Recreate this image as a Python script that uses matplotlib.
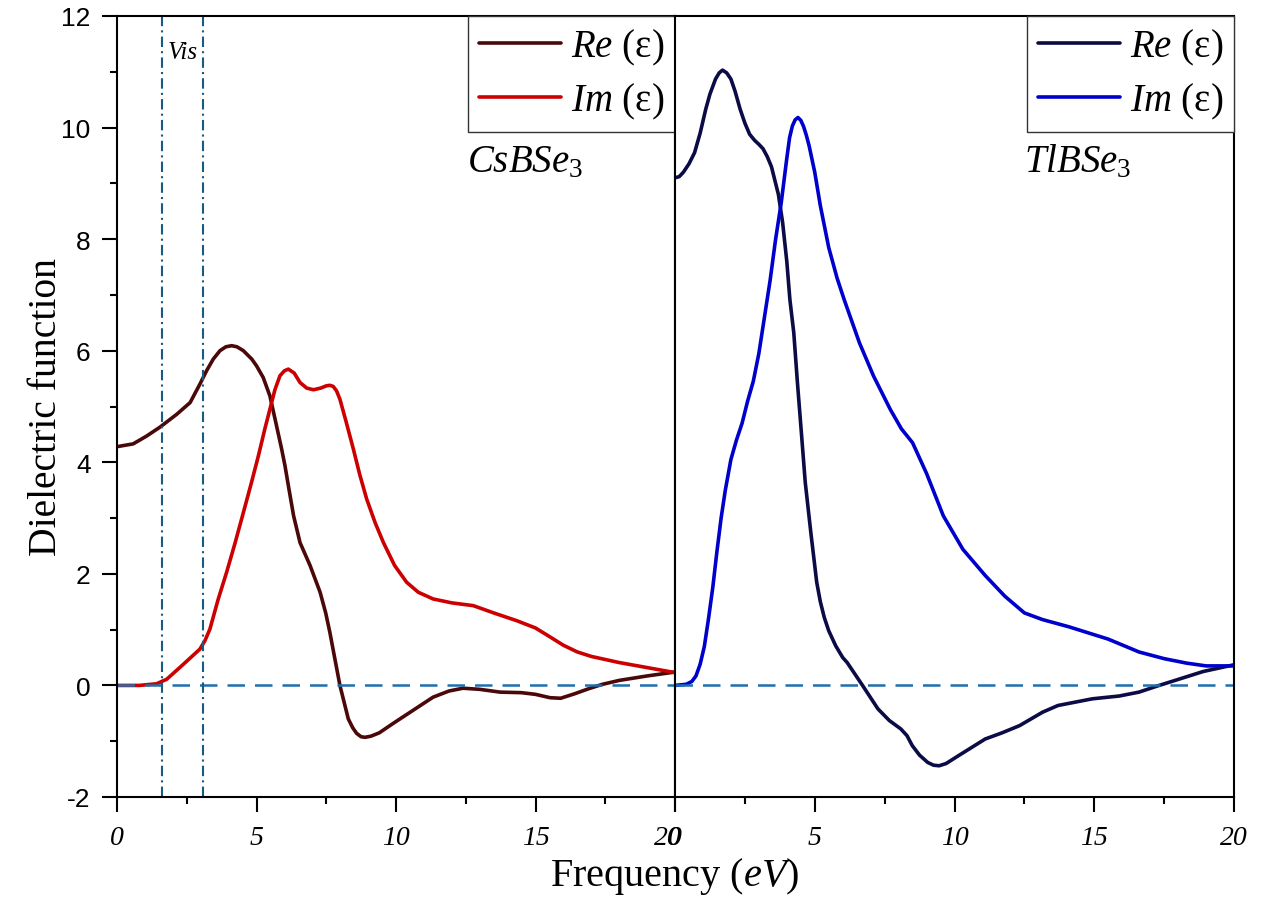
import matplotlib
matplotlib.use('Agg')
import matplotlib.pyplot as plt
import matplotlib.transforms as mtransforms
from matplotlib.ticker import MultipleLocator

plt.rcParams['font.family'] = ['Liberation Serif', 'DejaVu Serif']
plt.rcParams['mathtext.fontset'] = 'custom'
plt.rcParams['mathtext.rm'] = 'Liberation Serif'
plt.rcParams['mathtext.it'] = 'Liberation Serif:italic'
plt.rcParams['axes.unicode_minus'] = False

# CsBSe3 - real part
cs_re_x = [0, 0.58, 1.06, 1.54, 2.14, 2.62, 2.97, 3.21, 3.45, 3.69, 3.9, 4.11, 4.3, 4.53, 4.83,
           5.0, 5.24, 5.48, 5.72, 5.9, 6.02, 6.17, 6.33, 6.56, 6.92, 7.28, 7.48, 7.63, 7.8, 7.99,
           8.15, 8.29, 8.45, 8.59, 8.75, 8.89, 9.1, 9.4, 9.9, 10.6, 11.33, 11.9, 12.4, 13.0,
           13.73, 14.5, 15.0, 15.52, 15.9, 16.4, 16.9, 17.4, 18.0, 19.0, 20.0]
cs_re_y = [4.28, 4.33, 4.47, 4.63, 4.86, 5.07, 5.40, 5.64, 5.85, 6.0, 6.07, 6.09, 6.07, 6.0, 5.85,
           5.73, 5.52, 5.19, 4.65, 4.24, 3.94, 3.5, 3.04, 2.56, 2.15, 1.67, 1.3, 0.95, 0.5, 0.0,
           -0.32, -0.6, -0.76, -0.86, -0.92, -0.93, -0.91, -0.85, -0.68, -0.45, -0.21, -0.1, -0.05,
           -0.07, -0.12, -0.13, -0.16, -0.22, -0.23, -0.15, -0.06, 0.02, 0.09, 0.17, 0.24]

# CsBSe3 - imaginary part
cs_im_x = [0, 0.8, 1.42, 1.78, 2.38, 2.97, 3.15, 3.33, 3.63, 3.93, 4.23, 4.53, 4.8, 5.07, 5.3,
           5.48, 5.66, 5.84, 6.0, 6.14, 6.35, 6.56, 6.8, 7.04, 7.3, 7.5, 7.63, 7.75, 7.87, 7.99,
           8.2, 8.47, 8.7, 8.95, 9.25, 9.55, 9.95, 10.38, 10.8, 11.33, 12.0, 12.77, 13.5, 14.33,
           15.0, 15.52, 16.0, 16.5, 17.0, 18.0, 19.0, 20.0]
cs_im_y = [0.0, 0.0, 0.03, 0.11, 0.38, 0.65, 0.8, 1.01, 1.55, 2.03, 2.55, 3.1, 3.6, 4.12, 4.6,
           4.95, 5.3, 5.55, 5.64, 5.67, 5.6, 5.43, 5.33, 5.30, 5.33, 5.37, 5.38, 5.36, 5.28, 5.13,
           4.75, 4.24, 3.78, 3.34, 2.92, 2.56, 2.15, 1.85, 1.67, 1.55, 1.48, 1.43, 1.3, 1.16,
           1.03, 0.87, 0.72, 0.6, 0.52, 0.41, 0.32, 0.23]

# TlBSe3 - real part
tl_re_x = [0, 0.15, 0.3, 0.5, 0.7, 0.9, 1.1, 1.25, 1.45, 1.58, 1.7, 1.85, 2.0, 2.15, 2.33,
           2.5, 2.67, 2.85, 3.0, 3.15, 3.3, 3.45, 3.55, 3.7, 3.85, 4.0, 4.11, 4.25, 4.38, 4.52,
           4.66, 4.86, 5.07, 5.2, 5.34, 5.5, 5.75, 6.0, 6.16, 6.71, 7.26, 7.67, 8.08, 8.3, 8.49,
           8.75, 9.04, 9.25, 9.45, 9.7, 10.14, 11.1, 11.7, 12.33, 13.15, 13.7, 14.93, 15.89, 16.6,
           17.26, 18.08, 18.9, 20.0]
tl_re_y = [9.1, 9.12, 9.2, 9.35, 9.55, 9.9, 10.33, 10.6, 10.87, 10.98, 11.03, 10.98, 10.87, 10.65, 10.33,
           10.08, 9.88, 9.77, 9.7, 9.62, 9.48, 9.3, 9.1, 8.8, 8.3, 7.6, 6.92, 6.32, 5.43, 4.54,
           3.64, 2.74, 1.85, 1.5, 1.22, 0.98, 0.71, 0.5, 0.41, 0.0, -0.42, -0.63, -0.78, -0.9, -1.08,
           -1.25, -1.38, -1.43, -1.44, -1.4, -1.26, -0.96, -0.85, -0.72, -0.48, -0.36, -0.24, -0.19, -0.12,
           -0.01, 0.12, 0.25, 0.37]

# TlBSe3 - imaginary part
tl_im_x = [0, 0.4, 0.6, 0.75, 0.9, 1.05, 1.2, 1.35, 1.5, 1.65, 1.8, 2.0, 2.2, 2.4, 2.6,
           2.8, 3.0, 3.2, 3.4, 3.6, 3.8, 4.0, 4.1, 4.2, 4.3, 4.4, 4.5, 4.6, 4.7, 4.8,
           5.0, 5.2, 5.5, 5.8, 6.05, 6.6, 7.1, 7.7, 8.1, 8.5, 9.0, 9.6, 10.3, 11.1, 11.8,
           12.5, 13.15, 14.1, 15.5, 16.6, 17.5, 18.3, 19.0, 20.0]
tl_im_y = [0.0, 0.02, 0.07, 0.17, 0.38, 0.7, 1.2, 1.75, 2.4, 3.0, 3.5, 4.05, 4.4, 4.7, 5.1,
           5.45, 5.95, 6.6, 7.25, 8.0, 8.65, 9.45, 9.82, 10.03, 10.14, 10.18, 10.13, 10.02, 9.86, 9.67,
           9.2, 8.6, 7.85, 7.3, 6.92, 6.14, 5.55, 4.95, 4.6, 4.35, 3.8, 3.04, 2.44, 1.97, 1.6,
           1.3, 1.18, 1.05, 0.83, 0.6, 0.48, 0.4, 0.35, 0.35]

vis_lines = [1.6, 3.1]
re_label = r'$\mathit{Re}$ (ε)'
im_label = r'$\mathit{Im}$ (ε)'

fig = plt.figure(figsize=(12.84, 9.03), dpi=100)
axL = fig.add_axes([117 / 1284, 105 / 903, 558 / 1284, 781 / 903])
axR = fig.add_axes([675 / 1284, 105 / 903, 559 / 1284, 781 / 903], sharey=axL)

kw = dict(lw=2.6, solid_joinstyle='round', solid_capstyle='round')
axL.plot(cs_re_x, cs_re_y, color='#4a0808', label=re_label, **kw)
axL.plot(cs_im_x, cs_im_y, color='#cc0000', label=im_label, **kw)
axR.plot(tl_re_x, tl_re_y, color='#0b0b45', label=re_label, **kw)
axR.plot(tl_im_x, tl_im_y, color='#0000cc', label=im_label, **kw)

for ax in (axL, axR):
    ax.axhline(0, color='#1f6fae', lw=1.8, ls=(0, (7, 4)))
    ax.set_xlim(0, 20)
    ax.set_xticks([0, 5, 10, 15, 20])
    ax.xaxis.set_minor_locator(MultipleLocator(2.5))
    for sp in ax.spines.values():
        sp.set_linewidth(1.5)
    ax.tick_params(axis='x', which='major', direction='out', length=11, width=1.5, pad=9,
                   labelsize=20)
    ax.tick_params(axis='x', which='minor', direction='out', length=5, width=1.5)
    for t in ax.get_xticklabels():
        t.set_fontstyle('italic')
    leg = ax.legend(loc='upper right', borderaxespad=0, fancybox=False, framealpha=1,
                    edgecolor='#333333', fontsize=28, handlelength=2.1, handletextpad=0.26,
                    borderpad=0.28, labelspacing=0.35)
    leg.get_frame().set_linewidth(1.0)

# left panel "20" sits under the right panel "0"
lbl = axL.xaxis.get_major_ticks()[-1].label1
lbl.set_transform(lbl.get_transform() + mtransforms.ScaledTranslation(-0.07, 0, fig.dpi_scale_trans))

for v in vis_lines:
    axL.axvline(v, color='#175a83', lw=1.5, ls=(0, (5, 2, 1, 2)))
axL.text(2.35, 11.35, 'Vis', fontsize=18, fontstyle='italic', ha='center', va='center')

axL.set_ylim(-2, 12)
axL.yaxis.set_major_locator(MultipleLocator(2))
axL.yaxis.set_minor_locator(MultipleLocator(1))
axL.tick_params(axis='y', which='major', direction='out', length=11, width=1.5, pad=8,
                labelsize=19)
axL.tick_params(axis='y', which='minor', direction='out', length=5, width=1.5)
for t in axL.get_yticklabels():
    t.set_fontfamily('Liberation Sans')
axR.tick_params(axis='y', which='both', left=False, labelleft=False)

axL.text(12.55, 9.22, r'$\mathit{CsBSe}_{\mathit{3}}$', fontsize=28, va='baseline')
axR.text(12.5, 9.22, r'$\mathit{TlBSe}_{\mathit{3}}$', fontsize=28, va='baseline')

axL.set_ylabel('Dielectric function', fontsize=28.5, labelpad=-3)
fig.text(675 / 1284, 17 / 903, r'Frequency ($\mathit{eV}$)', fontsize=29, ha='center', va='baseline')

fig.savefig('out.png', dpi=100)
